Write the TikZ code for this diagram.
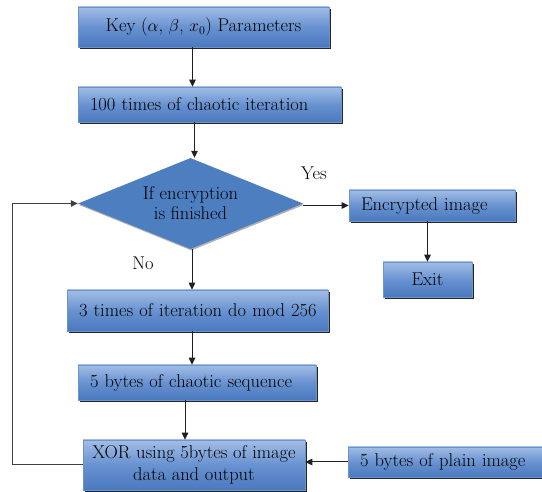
\documentclass[tikz,border=0pt]{standalone}
\usetikzlibrary{shapes.geometric,arrows.meta,shadows,calc}
\definecolor{boxtop}{HTML}{A2BDE6}
\definecolor{boxmid}{HTML}{6892D0}
\definecolor{boxbot}{HTML}{4A79BF}
\definecolor{boxline}{HTML}{6E92CB}
\definecolor{diafill}{HTML}{4C7EC0}
\definecolor{lnk}{HTML}{202020}
\tikzset{
  fbox/.style={draw=boxline, line width=0.6pt, top color=boxtop, bottom color=boxbot, middle color=boxmid,
    drop shadow={shadow xshift=1.6pt, shadow yshift=-1.8pt, fill=black!85, opacity=1},
    font=\fontsize{18.5}{22}\selectfont, text=black, inner ysep=0pt},
  cbox/.style={fbox, align=center, inner xsep=0pt},
  lbox/.style={fbox, align=left, inner xsep=12pt},
  dia/.style={shape=diamond, fill=diafill, aspect=2.47, inner sep=0pt,
    drop shadow={shadow xshift=0.8pt, shadow yshift=-1.5pt, fill=black!50, opacity=0.6},
    font=\fontsize{18.5}{20}\selectfont, align=center, text=black},
  lbl/.style={font=\fontsize{18.5}{21}\selectfont, text=black},
  arr/.style={draw=lnk, line width=1pt, -{Triangle[length=7pt,width=6.5pt]}},
}
\begin{document}
\begin{tikzpicture}[x=1pt,y=-1pt]
\useasboundingbox[fill=white] (0,0) rectangle (542,492);

\node[cbox, minimum width=251pt, minimum height=40pt] (key) at (203.5,27)
  {Key ($\alpha$, $\beta$, $x_0$) Parameters};
\node[lbox, text width=239pt, minimum height=35pt] (hundred) at (209.5,104.5)
  {\mbox{100 times of chaotic iteration}};
\node[dia, minimum width=225pt, minimum height=91pt] (dec) at (190.5,203.5)
  {If encryption\\is finished};
\node[lbox, text width=142pt, minimum height=31pt] (enc) at (432,205.5)
  {\mbox{Encrypted image}};
\node[cbox, minimum width=89pt, minimum height=35pt] (exit) at (427.5,279.5)
  {Exit};
\node[lbox, text width=237pt, minimum height=41pt] (three) at (197.5,310.5)
  {\mbox{3 times of iteration do mod 256}};
\node[lbox, text width=214pt, minimum height=35pt] (chaos) at (197,382.5)
  {\mbox{5 bytes of chaotic sequence}};
\node[cbox, minimum width=222pt, minimum height=50pt] (xor) at (194,465)
  {XOR using 5bytes of image\\data and output};
\node[lbox, text width=174pt, minimum height=30pt] (plain) at (447,462)
  {\mbox{5 bytes of plain image}};

\node[lbl] (yes) at (314,173) {Yes};
\node[lbl] (no) at (143,263) {No};

\draw[arr] ([xshift=2pt]dec.north |- key.south) -- ([xshift=2pt]dec.north |- hundred.north);
\draw[arr] ([xshift=4pt]dec.north |- hundred.south) -- ([xshift=4pt]dec.north);
\draw[arr] (dec.east |- enc.west) -- (enc.west);
\draw[arr] (exit.north |- enc.south) -- (exit.north);
\draw[arr] ([xshift=1.5pt]dec.south) -- ([xshift=1.5pt]dec.south |- three.north);
\draw[arr] ([xshift=1.5pt]dec.south |- three.south) -- ([xshift=1.5pt]dec.south |- chaos.north);
\draw[arr] ([xshift=-9pt]xor.north |- chaos.south) -- ([xshift=-9pt]xor.north);
\draw[arr] (plain.west) -- (plain.west -| xor.east);
\draw[arr, draw=black!75] (xor.west) -- ++(-70,0) |- (dec.west);
\end{tikzpicture}
\end{document}
